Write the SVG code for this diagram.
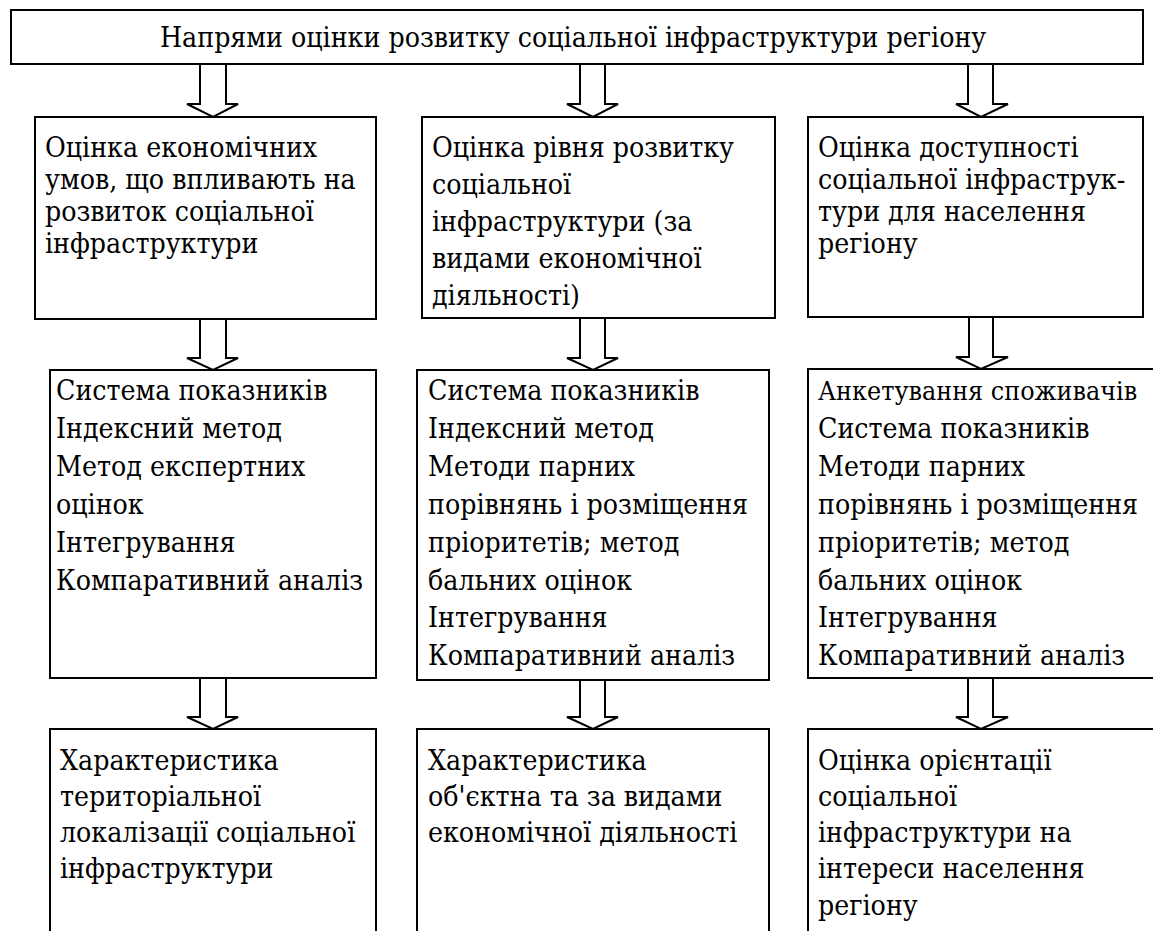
<svg xmlns="http://www.w3.org/2000/svg" width="1153" height="931" viewBox="0 0 1153 931">
<style>
.box{fill:#fff;stroke:#000;stroke-width:2}
.arr{fill:#fff;stroke:#000;stroke-width:2;stroke-linejoin:miter}
text{font-family:'DejaVu Serif Condensed','DejaVu Serif',serif;font-size:28.2px;fill:#000}
</style>
<rect width="1153" height="931" fill="#fff"/>
<g id="connectors">
<path class="arr" d="M200 64 V104 H187 L213 117 L238 104 H226 V64"/>
<path class="arr" d="M580 64 V104 H567 L593 117 L618 104 H605 V64"/>
<path class="arr" d="M968 64 V104 H956 L981 117 L1008 104 H993 V64"/>
<path class="arr" d="M200 319 V358 H187 L213 370 L238 358 H226 V319"/>
<path class="arr" d="M580 318 V358 H567 L593 370 L618 358 H605 V318"/>
<path class="arr" d="M969 317 V357 H956 L981 369 L1008 357 H993 V317"/>
<path class="arr" d="M200 678 V717 H187 L213 729 L238 717 H226 V678"/>
<path class="arr" d="M580 680 V717 H567 L593 729 L618 717 H605 V680"/>
<path class="arr" d="M968 678 V717 H956 L981 729 L1008 717 H993 V678"/>
</g>
<g id="title">
<rect class="box" x="11" y="10" width="1132" height="54"/>
<text x="160" y="47">Напрями оцінки розвитку соціальної інфраструктури регіону</text>
</g>
<g id="r1c1">
<rect class="box" x="35" y="117" width="341" height="202"/>
<text><tspan x="45" y="157">Оцінка економічних</tspan><tspan x="45" y="189">умов, що впливають на</tspan><tspan x="45" y="221">розвиток соціальної</tspan><tspan x="45" y="253">інфраструктури</tspan></text>
</g>
<g id="r1c2">
<rect class="box" x="422" y="117" width="353" height="201"/>
<text><tspan x="432" y="157">Оцінка рівня розвитку</tspan><tspan x="432" y="194">соціальної</tspan><tspan x="432" y="231">інфраструктури (за</tspan><tspan x="432" y="268">видами економічної</tspan><tspan x="432" y="305">діяльності)</tspan></text>
</g>
<g id="r1c3">
<rect class="box" x="808" y="117" width="335" height="200"/>
<text><tspan x="818" y="157">Оцінка доступності</tspan><tspan x="818" y="189">соціальної інфраструк-</tspan><tspan x="818" y="221">тури для населення</tspan><tspan x="818" y="253">регіону</tspan></text>
</g>
<g id="r2c1">
<rect class="box" x="50" y="370" width="326" height="308"/>
<text><tspan x="56" y="400">Система показників</tspan><tspan x="56" y="438">Індексний метод</tspan><tspan x="56" y="476">Метод експертних</tspan><tspan x="56" y="514">оцінок</tspan><tspan x="56" y="552">Інтегрування</tspan><tspan x="56" y="590">Компаративний аналіз</tspan></text>
</g>
<g id="r2c2">
<rect class="box" x="417" y="370" width="352" height="310"/>
<text><tspan x="428" y="400">Система показників</tspan><tspan x="428" y="438">Індексний метод</tspan><tspan x="428" y="476">Методи парних</tspan><tspan x="428" y="514">порівнянь і розміщення</tspan><tspan x="428" y="552">пріоритетів; метод</tspan><tspan x="428" y="590">бальних оцінок</tspan><tspan x="428" y="627">Інтегрування</tspan><tspan x="428" y="665">Компаративний аналіз</tspan></text>
</g>
<g id="r2c3">
<rect class="box" x="808" y="369" width="352" height="309"/>
<text><tspan x="818" y="400" style="font-size:26.6px">Анкетування споживачів</tspan><tspan x="818" y="438">Система показників</tspan><tspan x="818" y="476">Методи парних</tspan><tspan x="818" y="514">порівнянь і розміщення</tspan><tspan x="818" y="552">пріоритетів; метод</tspan><tspan x="818" y="590">бальних оцінок</tspan><tspan x="818" y="627">Інтегрування</tspan><tspan x="818" y="665">Компаративний аналіз</tspan></text>
</g>
<g id="r3c1">
<rect class="box" x="50" y="729" width="326" height="220"/>
<text><tspan x="60" y="770">Характеристика</tspan><tspan x="60" y="806">територіальної</tspan><tspan x="60" y="842">локалізації соціальної</tspan><tspan x="60" y="878">інфраструктури</tspan></text>
</g>
<g id="r3c2">
<rect class="box" x="417" y="729" width="352" height="220"/>
<text><tspan x="428" y="770">Характеристика</tspan><tspan x="428" y="806">об'єктна та за видами</tspan><tspan x="428" y="842">економічної діяльності</tspan></text>
</g>
<g id="r3c3">
<rect class="box" x="808" y="729" width="352" height="220"/>
<text><tspan x="818" y="770">Оцінка орієнтації</tspan><tspan x="818" y="806">соціальної</tspan><tspan x="818" y="842">інфраструктури на</tspan><tspan x="818" y="878">інтереси населення</tspan><tspan x="818" y="915">регіону</tspan></text>
</g>
</svg>
